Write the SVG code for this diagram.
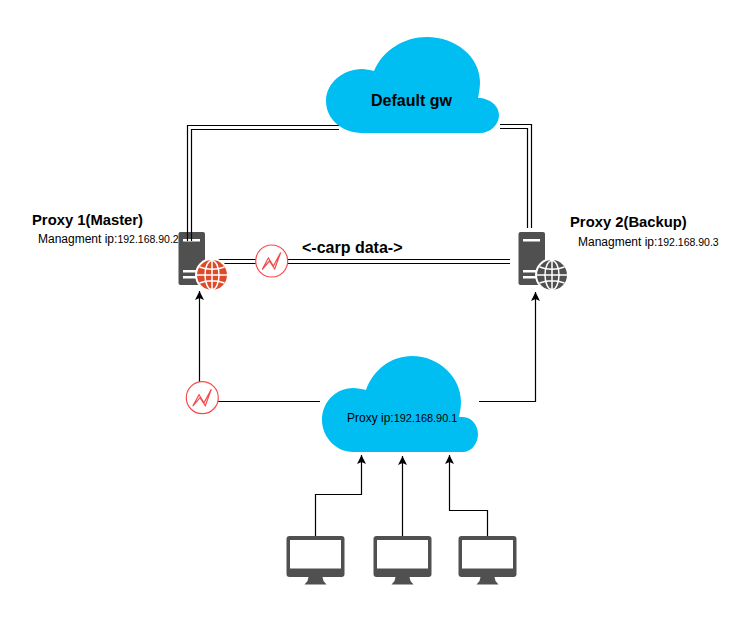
<svg xmlns="http://www.w3.org/2000/svg" width="751" height="621" viewBox="0 0 751 621">
<style>
text{font-family:"Liberation Sans",Arial,sans-serif;fill:#000}
.b{font-weight:bold}
.t15{font-size:14.800px}.t16{font-size:16px}.t12{font-size:12px}.ip{font-size:10.500px}.ip2{font-size:10.900px}
.cloud{fill:#00bef2}
.icon{fill:#505050}
.line{fill:none;stroke:#000;stroke-width:1.200}
.dbl{fill:none;stroke:#000;stroke-width:1.200}
.grid{fill:none;stroke:#fff;stroke-width:1.500}
.bar{fill:#fff}
.haz{fill:#fff;stroke:#f54b4b;stroke-width:1.200}
.bolt{fill:none;stroke:#f54b4b;stroke-width:1.200;stroke-linejoin:miter}
</style>
<defs>
<marker id="arr" markerUnits="userSpaceOnUse" markerWidth="11" markerHeight="11" refX="9" refY="4.500" orient="auto">
<path d="M0 0L9 4.500L0 9L2 4.500Z" fill="#000"/>
</marker>
<g id="grid">
<ellipse rx="7" ry="14.600" class="grid"/>
<path class="grid" d="M0-15V15M-15 0H15M-12.500-8Q0-3.500 12.500-8M-12.500 8Q0 3.500 12.500 8"/>
</g>
<g id="server">
<rect x="0" y="0" width="26.500" height="53" rx="2" class="icon"/>
<rect x="4.500" y="7" width="17" height="2.500" class="bar"/>
<rect x="4.500" y="38" width="17" height="2.500" class="bar"/>
<rect x="4.500" y="44" width="17" height="2.500" class="bar"/>
<circle cx="33.500" cy="43" r="17" fill="#fff"/>
</g>
<g id="monitor">
<rect x="0" y="0" width="58" height="41" rx="3" class="icon"/>
<rect x="3.500" y="4" width="51" height="28.500" fill="#fff"/>
<path class="icon" d="M22 41H36L37 45L40 48.500H18L21 45Z"/>
</g>
<path id="bolt" class="bolt" d="M-9.500 8.500L-3.300-3L1.700 5L9-8.500L3 8L-2.300 0Z"/>
</defs>

<g id="connectors">
<path class="dbl" d="M339 125.500H187.500V241M339 129.500H191.500V241"/>
<path class="dbl" d="M500 124.500H531.500V228M500 128.500H527.500V228"/>
<path class="dbl" d="M218 259.500H510M218 263.500H510"/>
<path class="line" d="M320 401.500H199.500V291" marker-end="url(#arr)"/>
<path class="line" d="M479 401.500H535.500V292" marker-end="url(#arr)"/>
<path class="line" d="M315.500 536V494.500H361.500V455" marker-end="url(#arr)"/>
<path class="line" d="M402.500 536V456" marker-end="url(#arr)"/>
<path class="line" d="M487.500 536V510.500H449.500V455" marker-end="url(#arr)"/>
</g>

<g id="proxy1-label">
<text class="b t15" x="32" y="225">Proxy 1(Master)</text>
<text class="t12" x="38" y="243">Managment ip:<tspan class="ip">192.168.90.2</tspan></text>
</g>
<g id="proxy2-label">
<text class="b t15" x="570" y="227">Proxy 2(Backup)</text>
<text class="t12" x="578" y="246">Managment ip:<tspan class="ip">192.168.90.3</tspan></text>
</g>

<g id="default-gw">
<path class="cloud" d="M362 133C342 133 326 119 326 101C326 83 343 69 362 69C366 69 370 70 374 71C383 50 404 37 427 37C456 37 480 57 480 82C480 87 479 93 478 98C490 98 499 106 499 115C499 125 490 133 480 133Z"/>
<text class="b t16" x="371" y="106">Default gw</text>
</g>

<g id="proxy-vip">
<path class="cloud" d="M353 452C336 452 322 437 322 420C322 402 336 388 353 388C357 388 362 389 366 390C373 370 391 356 412 356C439 356 461 377 461 402C461 407 460 412 459 417L463 417C472 417 478 426 478 434C478 444 471 452 463 452Z"/>
<text class="t12" x="347" y="422">Proxy ip:<tspan class="ip2">192.168.90.1</tspan></text>
</g>

<g id="proxy1" transform="translate(178.500 232)">
<use href="#server"/>
<circle cx="33.500" cy="43" r="15" fill="#dd4b2b"/>
<use href="#grid" transform="translate(33.500 43)"/>
</g>
<path class="dbl" d="M187.500 232V241M191.500 232V241"/>

<g id="proxy2" transform="translate(518.500 232)">
<use href="#server"/>
<circle cx="33.500" cy="43" r="15" fill="#505050"/>
<use href="#grid" transform="translate(33.500 43)"/>
</g>

<g id="hazard1" transform="translate(271.700 261)">
<circle r="16" class="haz"/>
<use href="#bolt"/>
</g>
<g id="hazard2" transform="translate(202.300 397.700)">
<circle r="16" class="haz"/>
<use href="#bolt"/>
</g>

<text class="b t16" x="302" y="253">&lt;-carp data-&gt;</text>

<g id="client1" transform="translate(286.500 536)"><use href="#monitor"/></g>
<g id="client2" transform="translate(373.500 536)"><use href="#monitor"/></g>
<g id="client3" transform="translate(458.500 536)"><use href="#monitor"/></g>
</svg>
